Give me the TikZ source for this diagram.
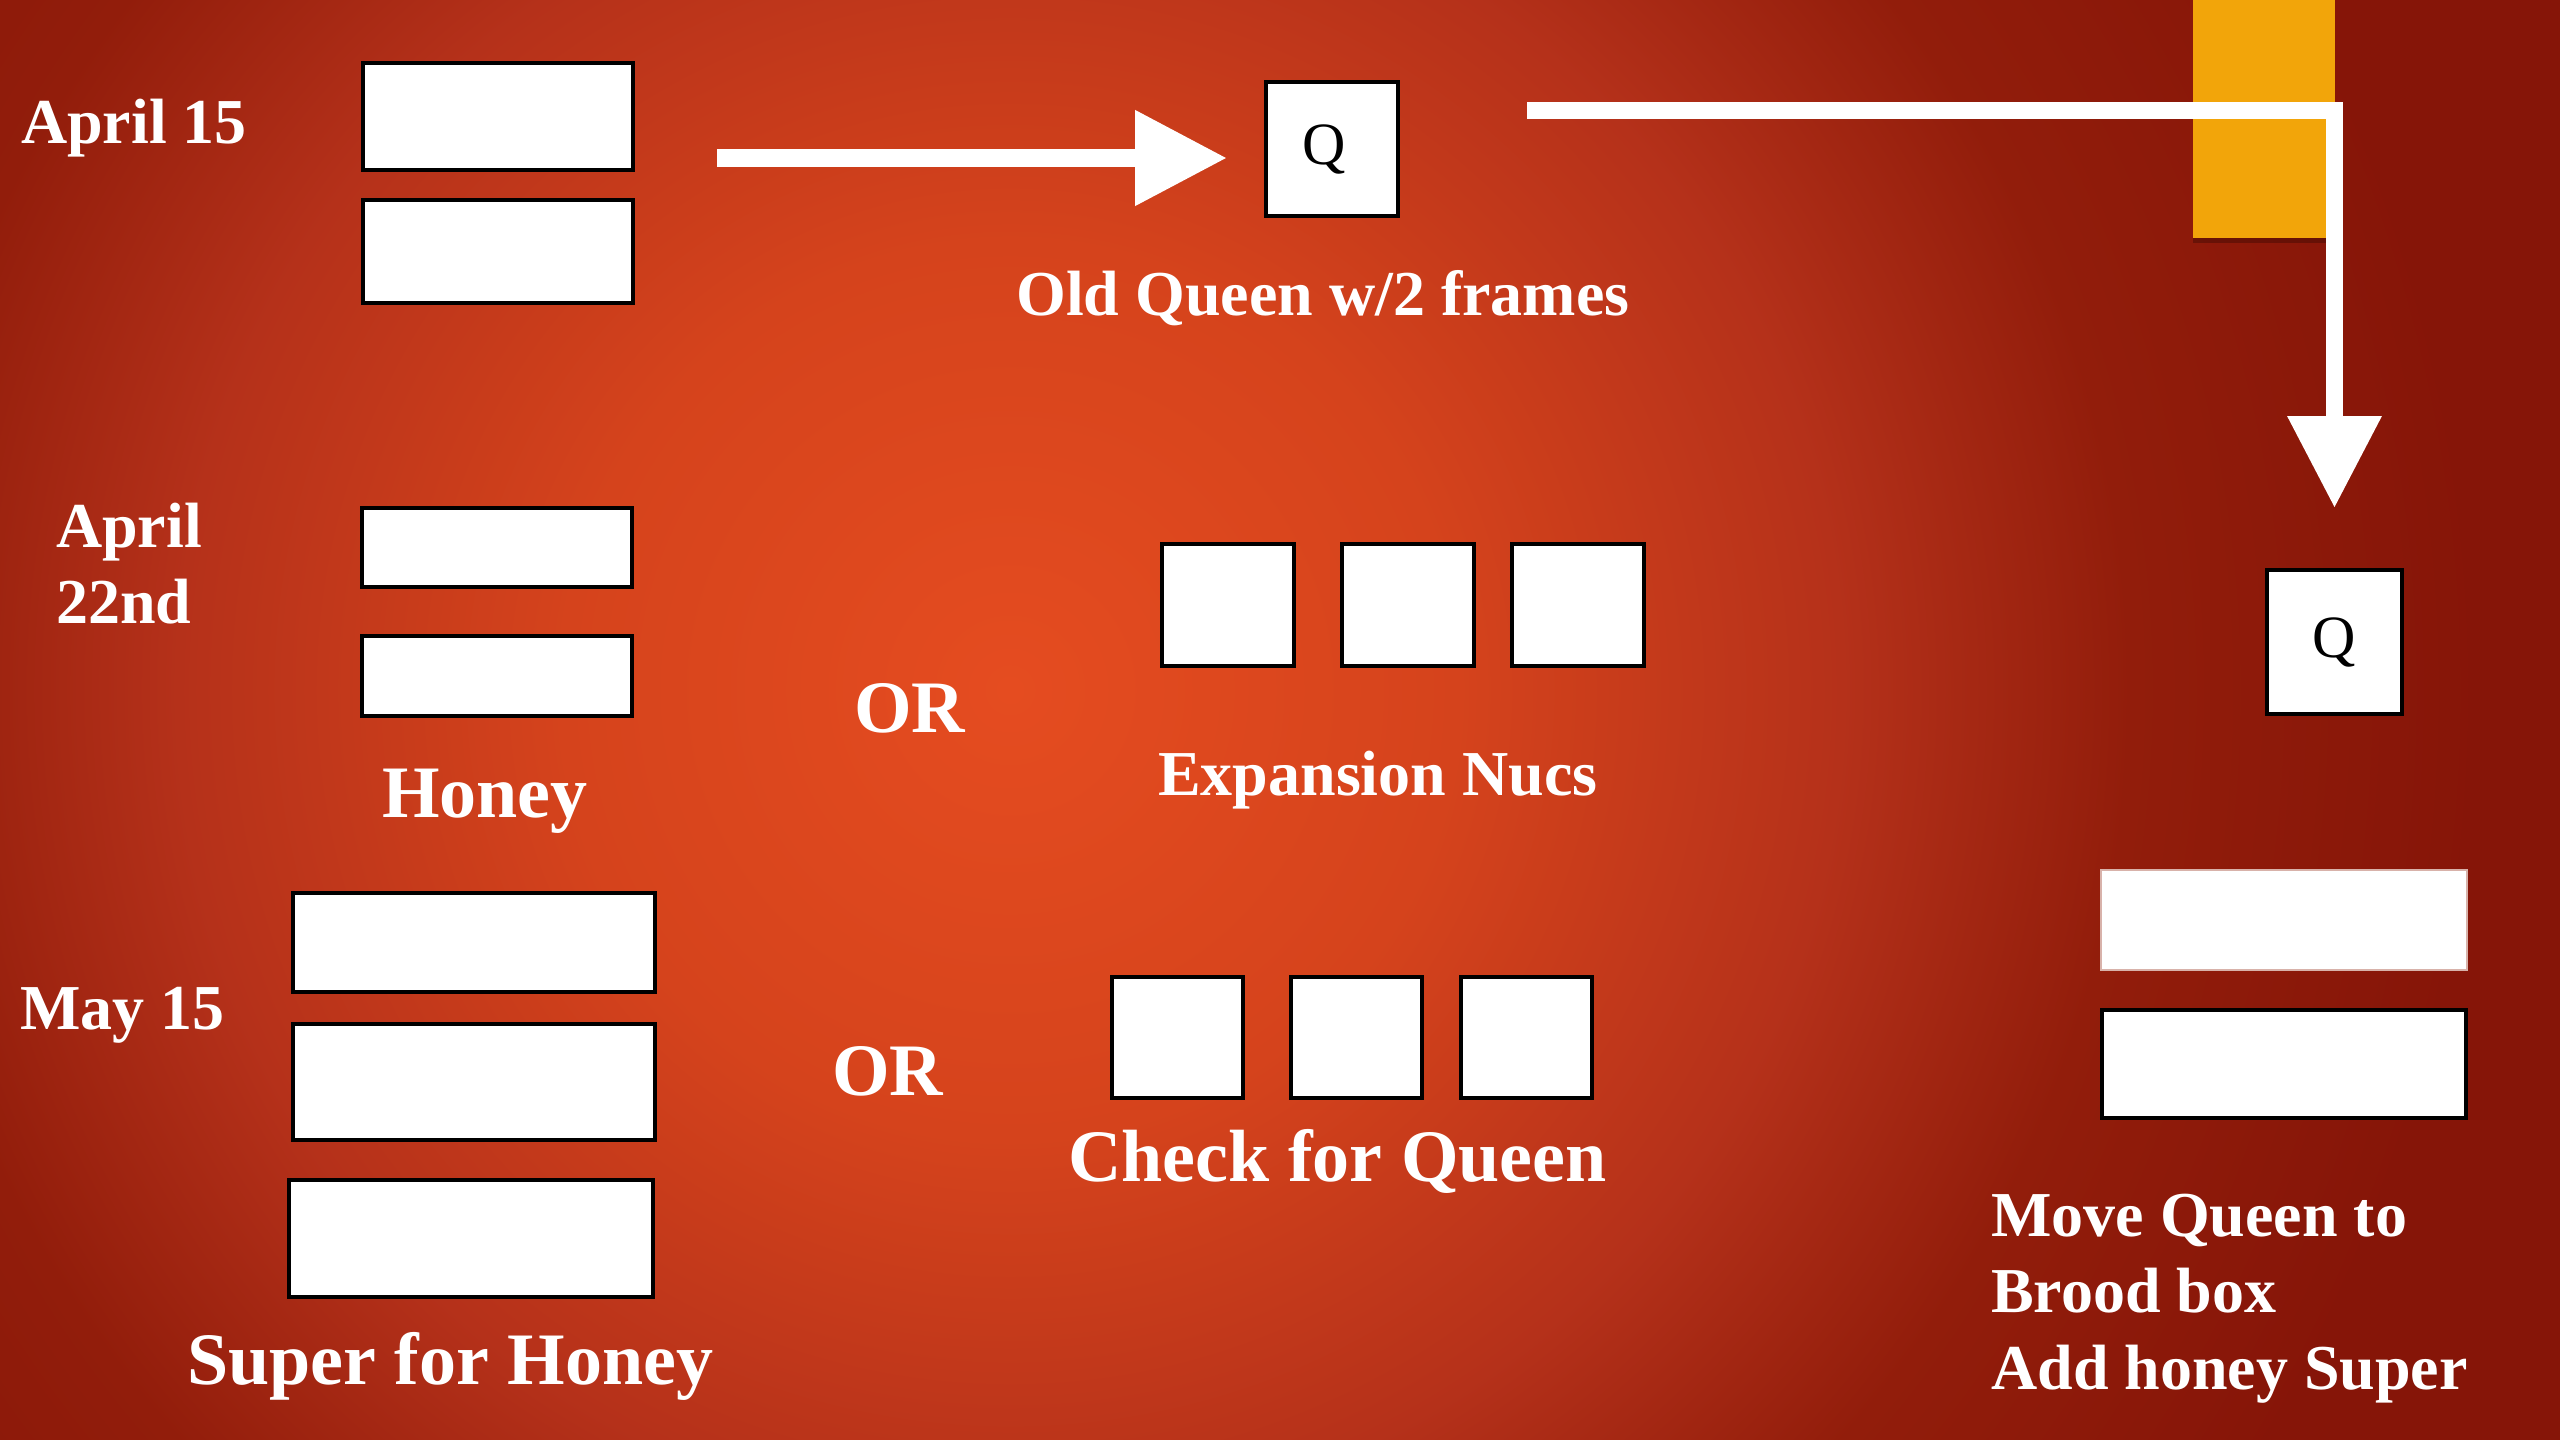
\documentclass[tikz,border=0pt]{standalone}
\usepackage{fontspec}
\setmainfont{Liberation Serif}
\usetikzlibrary{arrows.meta}

% background glow colours
\definecolor{glowA}{HTML}{E54C20}
\definecolor{glowB}{HTML}{D5431C}
\definecolor{glowC}{HTML}{B5311A}
\definecolor{glowD}{HTML}{921D0B}
\definecolor{glowE}{HTML}{861508}
\definecolor{markerorange}{HTML}{F2A50A}
\definecolor{paleedge}{HTML}{D8B2AA}

\pgfdeclareradialshading{hiveglow}{\pgfpointorigin}{%
  color(0bp)=(glowA); color(7bp)=(glowB); color(13bp)=(glowC);
  color(17.5bp)=(glowD); color(23bp)=(glowE); color(50bp)=(glowE)}

\tikzset{
  hivebox/.style={draw=black, fill=white, line width=4pt, inner sep=0pt},
  whitetext/.style={text=white, inner sep=0pt, anchor=base west,
    font=\bfseries\fontsize{64}{77}\selectfont},
  bigtext/.style={whitetext, font=\bfseries\fontsize{74}{88}\selectfont},
  queenbox/.style={hivebox, font=\fontsize{60}{60}\selectfont, text=black},
  fatarrow/.style={draw=white, line width=18pt,
    -{Triangle[length=92pt, width=91pt]}},
  elbowarrow/.style={draw=white, line width=17pt, line join=miter,
    -{Triangle[length=92pt, width=90pt]}}
}

\begin{document}
\begin{tikzpicture}[x=1pt, y=-1pt]
  \useasboundingbox (0,0) rectangle (2560,1440);
  \clip (0,0) rectangle (2560,1440);

  % background
  \shade[shading=hiveglow] (-590,-910) rectangle (2610,2290);

  % orange marker at the top right
  \fill[black, opacity=0.25] (2193,236) rectangle (2335,243);
  \fill[markerorange] (2193,0) rectangle (2335,238);

  % April 15
  \node[whitetext] (lblApr15) at (21,143) {April 15};
  \node[hivebox, minimum width=270pt, minimum height=107pt] (a1) at (498,116.5) {};
  \node[hivebox, minimum width=270pt, minimum height=103pt] (a2) at (498,251.5) {};
  \node[queenbox, minimum width=132pt, minimum height=134pt] (q1) at (1332,149) {Q\kern16pt};
  \node[whitetext] (lblOld) at (1016,315) {Old Queen w/2 frames};

  \coordinate (arrowA) at (717,158);
  \draw[fatarrow] (arrowA) -- ([xshift=-37pt]arrowA -| q1.west);

  % April 22nd
  \node[whitetext] (lblApr) at (56,547) {April};
  \node[whitetext] (lbl22) at (56,623) {22nd};
  \node[hivebox, minimum width=270pt, minimum height=79pt] (b1) at (497,547.5) {};
  \node[hivebox, minimum width=270pt, minimum height=80pt] (b2) at (497,676) {};
  \node[bigtext] (lblHoney) at (382,817) {Honey};
  \node[bigtext] (lblOrA) at (854,732) {OR};
  \node[hivebox, minimum width=132pt, minimum height=122pt] (n1) at (1228,605) {};
  \node[hivebox, minimum width=132pt, minimum height=122pt] (n2) at (1407.5,605) {};
  \node[hivebox, minimum width=132pt, minimum height=122pt] (n3) at (1577.5,605) {};
  \node[whitetext] (lblNucs) at (1158,795) {Expansion Nucs};

  % May 15
  \node[whitetext] (lblMay) at (20,1029) {May 15};
  \node[hivebox, minimum width=362pt, minimum height=99pt] (c1) at (474,942.5) {};
  \node[hivebox, minimum width=362pt, minimum height=116pt] (c2) at (474,1082) {};
  \node[hivebox, minimum width=364pt, minimum height=117pt] (c3) at (471,1238.5) {};
  \node[bigtext] (lblSuper) at (187,1384) {Super for Honey};
  \node[bigtext] (lblOrB) at (832,1095) {OR};
  \node[hivebox, minimum width=131pt, minimum height=121pt] (k1) at (1177.5,1037.5) {};
  \node[hivebox, minimum width=131pt, minimum height=121pt] (k2) at (1356.5,1037.5) {};
  \node[hivebox, minimum width=131pt, minimum height=121pt] (k3) at (1526.5,1037.5) {};
  \node[bigtext] (lblCheck) at (1068,1181) {Check for Queen};

  % queen moved to the brood box
  \node[queenbox, minimum width=135pt, minimum height=144pt] (q2) at (2334.5,642) {Q};
  \coordinate (elbowA) at (1527,110);
  \draw[elbowarrow] (elbowA) -- (elbowA -| q2.north) -- ([yshift=60pt]q2.north);

  \node[hivebox, draw=paleedge, line width=2pt, minimum width=366pt, minimum height=100pt] (r1) at (2284,920) {};
  \node[hivebox, minimum width=364pt, minimum height=108pt] (r2) at (2284,1064) {};
  \node[whitetext] (lblMove) at (1991,1236) {Move Queen to};
  \node[whitetext] (lblBrood) at (1991,1312) {Brood box};
  \node[whitetext] (lblAdd) at (1991,1389) {Add honey Super};
\end{tikzpicture}
\end{document}
